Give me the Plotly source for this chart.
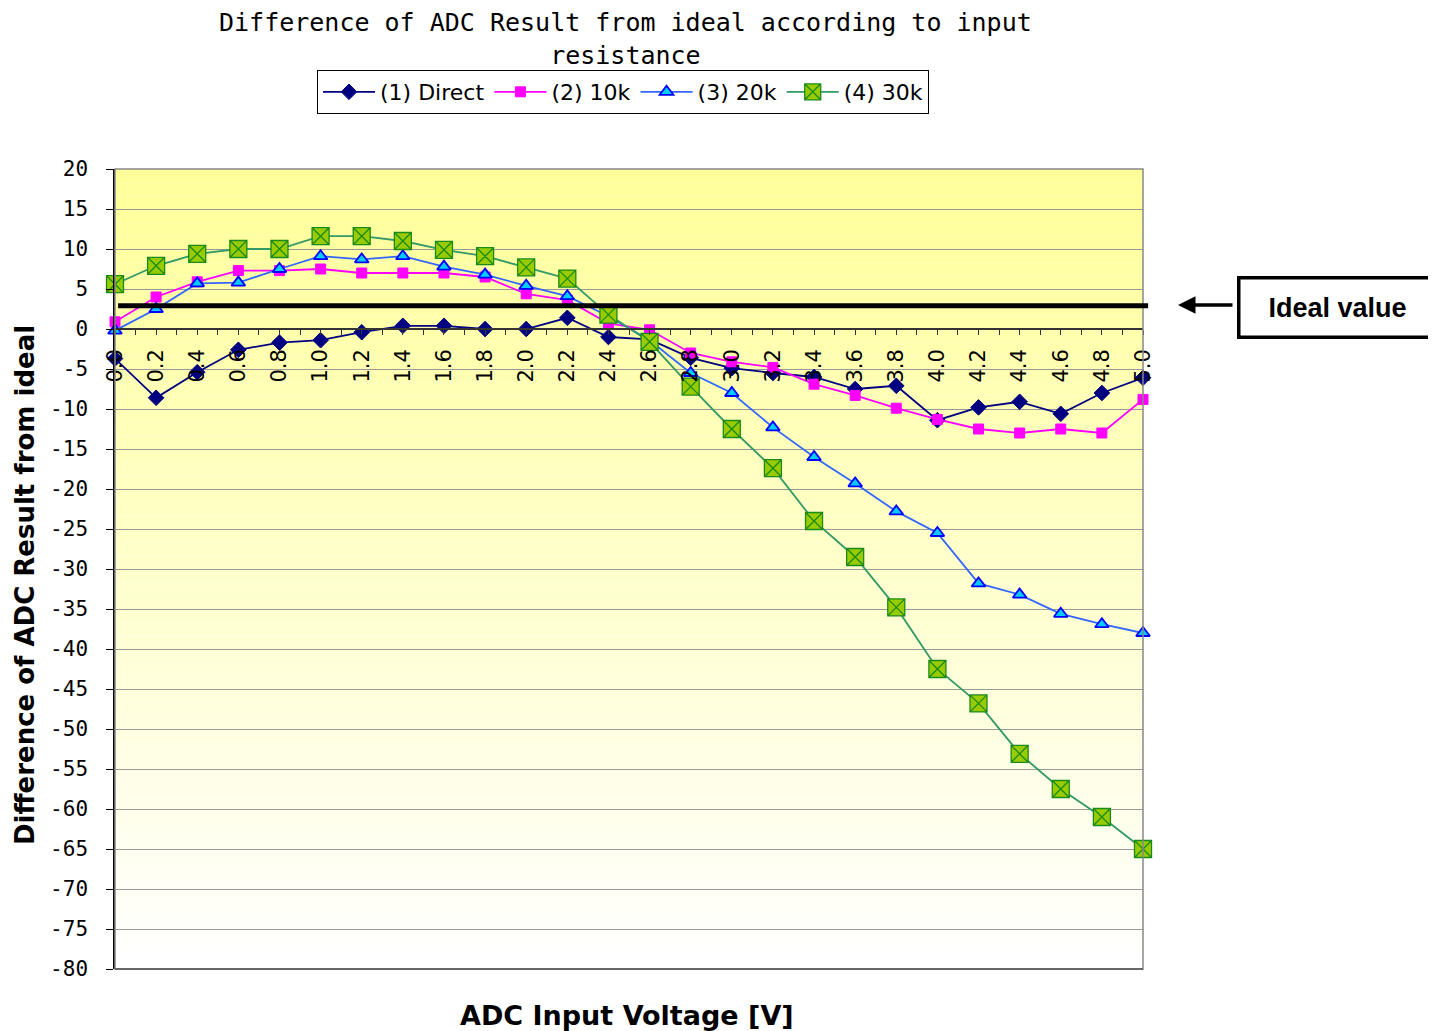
import plotly.graph_objects as go

# ---------------- data ----------------
voltage = [0.0, 0.2, 0.4, 0.6, 0.8, 1.0, 1.2, 1.4, 1.6, 1.8, 2.0, 2.2, 2.4,
           2.6, 2.8, 3.0, 3.2, 3.4, 3.6, 3.8, 4.0, 4.2, 4.4, 4.6, 4.8, 5.0]

direct = [-3.7, -8.6, -5.4, -2.6, -1.7, -1.4, -0.4, 0.4, 0.4, 0.0, 0.0, 1.4, -1.0,
          -1.3, -3.6, -4.9, -5.5, -6.0, -7.5, -7.1, -11.4, -9.8, -9.1, -10.6, -8.0, -6.1]

r10k = [0.9, 4.0, 5.9, 7.3, 7.3, 7.5, 7.0, 7.0, 7.0, 6.5, 4.4, 3.6, 0.7,
        -0.1, -3.0, -4.1, -4.8, -6.9, -8.3, -9.9, -11.3, -12.5, -13.0, -12.5, -13.0, -8.8]

r20k = [-0.2, 2.5, 5.7, 5.8, 7.5, 9.1, 8.7, 9.1, 7.8, 6.8, 5.4, 4.1, 1.6,
        -1.4, -5.5, -8.0, -12.3, -16.0, -19.3, -22.8, -25.5, -31.8, -33.2, -35.6, -36.9, -38.0]

r30k = [5.6, 7.9, 9.4, 10.0, 10.0, 11.6, 11.6, 11.0, 9.9, 9.1, 7.7, 6.3, 1.8,
        -1.6, -7.2, -12.5, -17.4, -24.0, -28.5, -34.8, -42.5, -46.8, -53.1, -57.5, -61.0, -65.0]

series_names = ["(1) Direct", "(2) 10k", "(3) 20k", "(4) 30k"]
ideal_value = 2.9
ideal_label = "Ideal value"
y_ticks = list(range(-80, 25, 5))
y_tick_text = [str(v) for v in y_ticks]
x_ticks = voltage

title_text = "Difference of ADC Result from ideal according to input<br>resistance"
x_title = "ADC Input Voltage [V]"
y_title = "Difference of ADC Result from ideal"

# ---------------- figure ----------------
fig = go.Figure()

fig.add_trace(go.Scatter(
    x=voltage, y=direct, name=series_names[0], mode="lines+markers",
    line=dict(color="#000080", width=1.8),
    marker=dict(symbol="diamond", size=12, color="#000080",
                line=dict(color="#000080", width=1)),
    cliponaxis=False))

fig.add_trace(go.Scatter(
    x=voltage, y=r10k, name=series_names[1], mode="lines+markers",
    line=dict(color="#FF00FF", width=1.8),
    marker=dict(symbol="square", size=10, color="#FF00FF",
                line=dict(color="#FF00FF", width=1)),
    cliponaxis=False))

fig.add_trace(go.Scatter(
    x=voltage, y=r20k, name=series_names[2], mode="lines+markers",
    line=dict(color="#3366FF", width=1.8),
    marker=dict(symbol="triangle-up", size=12, color="#00CCFF",
                line=dict(color="#0000FF", width=1.8)),
    cliponaxis=False))

fig.add_trace(go.Scatter(
    x=voltage, y=r30k, name=series_names[3], mode="lines+markers",
    line=dict(color="#339966", width=1.8),
    marker=dict(symbol="square-x", size=17, color="#99CC00",
                line=dict(color="#1a8a1a", width=1.3)),
    cliponaxis=False))

# gradient plot background (yellow top -> white bottom)
shapes = []
n = 60
top = (255, 255, 153)
bot = (255, 255, 255)
for i in range(n):
    f = i / (n - 1)
    c = tuple(round(bot[k] + (top[k] - bot[k]) * f) for k in range(3))
    shapes.append(dict(type="rect", xref="x domain", yref="y domain",
                       x0=0, x1=1, y0=i / n, y1=(i + 1) / n,
                       fillcolor="rgb(%d,%d,%d)" % c, line=dict(width=0),
                       layer="below"))
# plot border
shapes.append(dict(type="rect", xref="x domain", yref="y domain",
                   x0=0, x1=1, y0=0, y1=1,
                   line=dict(color="#888888", width=1.5), layer="above"))
shapes.append(dict(type="line", xref="x domain", yref="y domain",
                   x0=0, x1=1, y0=0, y1=0,
                   line=dict(color="#555555", width=1.5), layer="above"))
# ideal line
shapes.append(dict(type="line", xref="x domain", yref="y",
                   x0=0.003, x1=1.005, y0=ideal_value, y1=ideal_value,
                   line=dict(color="black", width=5), layer="above"))

ymin, ymax = -80, 20
zero_pos = (0 - ymin) / (ymax - ymin)

# page has an 8px body margin: plot area aimed at x 115..1143, y 169..969
fig.update_layout(
    width=1428, height=1023,
    margin=dict(l=107, r=293, t=161, b=62),
    paper_bgcolor="white", plot_bgcolor="white",
    shapes=shapes,
    showlegend=True,
    legend=dict(orientation="h", x=(623 - 115) / 1028, xanchor="center",
                y=(969 - 70) / 800, yanchor="top", bordercolor="black", borderwidth=1,
                bgcolor="white",
                font=dict(family="DejaVu Sans", size=22, color="black"),
                itemwidth=52, tracegroupgap=0),
    xaxis=dict(range=[0, 5], anchor="free", position=zero_pos,
               tickvals=x_ticks, tickformat=".1f", tickangle=-90,
               ticks="outside", ticklen=5, tickcolor="#333333",
               minor=dict(dtick=0.1, ticks="outside", ticklen=5, tickcolor="#333333"),
               showline=True, linecolor="#333333", linewidth=1.5,
               showgrid=False, zeroline=False,
               ticklabelstandoff=6,
               tickfont=dict(family="DejaVu Sans", size=21, color="black")),
    yaxis=dict(range=[ymin, ymax], tickvals=y_ticks, ticktext=y_tick_text,
               ticks="outside", ticklen=7, tickcolor="black",
               showline=True, linecolor="black", linewidth=1.5,
               showgrid=True, gridcolor="#999999", gridwidth=1,
               zeroline=False, ticklabelstandoff=14,
               tickfont=dict(family="DejaVu Sans Mono", size=21, color="black")),
    annotations=[
        dict(text=title_text, xref="paper", yref="paper",
             x=(625 - 115) / 1028, y=(969 - 6) / 800,
             showarrow=False, xanchor="center", yanchor="top",
             font=dict(family="DejaVu Sans Mono", size=25, color="black")),
        dict(text="<b>%s</b>" % y_title, xref="paper", yref="paper",
             x=(25 - 115) / 1028, y=(969 - 585) / 800, textangle=-90,
             showarrow=False, xanchor="center", yanchor="middle",
             font=dict(family="DejaVu Sans", size=26, color="black")),
        dict(text="<b>%s</b>" % x_title, xref="paper", yref="paper",
             x=(627 - 115) / 1028, y=(969 - 1015) / 800,
             showarrow=False, xanchor="center", yanchor="middle",
             font=dict(family="DejaVu Sans", size=27, color="black")),
        dict(text="<b>%s</b>" % ideal_label, xref="paper", yref="paper",
             x=(1337 - 115) / 1028, y=(969 - 307) / 800,
             showarrow=False, xanchor="center", yanchor="middle",
             width=190, height=52, bordercolor="black", borderwidth=3.5,
             bgcolor="white", borderpad=2,
             font=dict(family="Liberation Sans, Arial", size=27, color="black")),
        dict(text="", xref="paper", yref="paper",
             x=(1178 - 115) / 1028, y=(969 - 305) / 800,
             showarrow=True, ax=56, ay=0, arrowhead=2, arrowsize=1,
             arrowwidth=3.5, arrowcolor="black"),
    ],
)

fig.write_html("out.html")
